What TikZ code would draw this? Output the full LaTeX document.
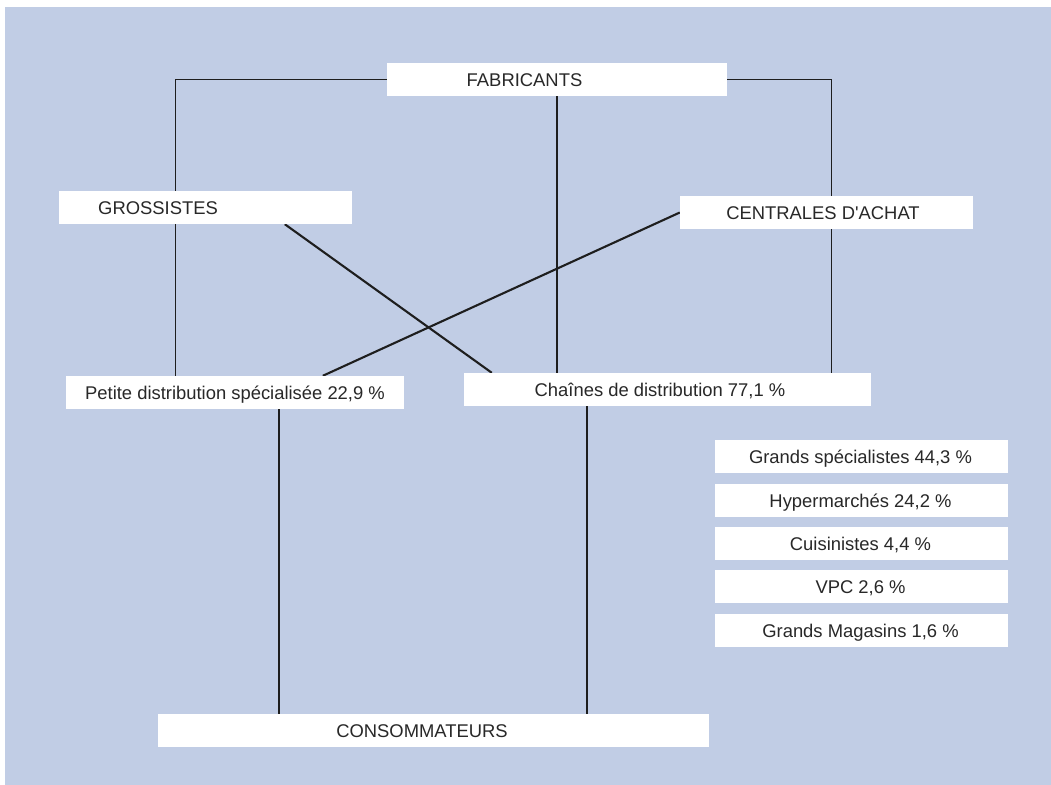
\documentclass[tikz,border=0pt]{standalone}
\usepackage{fontspec}
\setmainfont{Liberation Sans}
\usetikzlibrary{calc}
\pgfdeclarelayer{back}
\pgfdeclarelayer{lines}
\pgfsetlayers{back,lines,main}
\definecolor{bgblue}{RGB}{193,205,229}
\definecolor{txtgray}{RGB}{40,40,40}
\definecolor{linegray}{RGB}{30,30,30}
\tikzset{
  box/.style={fill=white, draw=none, inner sep=0pt, minimum height=33pt},
  txt/.style={text=txtgray, inner sep=0pt, text height=13.1pt, text depth=0pt, font=\fontsize{18.4pt}{21pt}\selectfont},
  thinline/.style={draw=linegray, line width=1.1pt},
  thickline/.style={draw=linegray, line width=2.1pt},
}
\begin{document}
\begin{tikzpicture}[x=1pt,y=-1pt]
\useasboundingbox (0,0) rectangle (1051,784);
\begin{pgfonlayer}{back}
\fill[white] (-5,-5) rectangle (1060,790);
\fill[bgblue] (5,7) rectangle (1060,790);
\end{pgfonlayer}
% boxes
\node[box, minimum width=340pt] (fab) at (557,79.5) {};
\node[box, minimum width=293pt] (gro) at (205.5,207.5) {};
\node[box, minimum width=293pt] (cen) at (826.5,212.5) {};
\node[box, minimum width=338pt] (pet) at (235,392.5) {};
\node[box, minimum width=407pt] (cha) at (667.5,389.5) {};
\node[box, minimum width=293pt] (r1) at (861.5,456.5) {};
\node[box, minimum width=293pt] (r2) at (861.5,500.5) {};
\node[box, minimum width=293pt] (r3) at (861.5,543.5) {};
\node[box, minimum width=293pt] (r4) at (861.5,586.5) {};
\node[box, minimum width=293pt] (r5) at (861.5,630.5) {};
\node[box, minimum width=551pt] (con) at (433.5,730.5) {};
% texts
\node[txt] (fabt) at (524.5,79.5) {FABRICANTS};
\node[txt, anchor=west] (grot) at (98,207.5) {GROSSISTES};
\node[txt] (cent) at (823,212.5) {CENTRALES D\textquotesingle ACHAT};
\node[txt] (pett) at (235,392.5) {Petite distribution spécialisée 22,9 \%};
\node[txt] (chat) at (660,389.5) {Chaînes de distribution 77,1 \%};
\node[txt] (r1t) at (860.5,456.5) {Grands spécialistes 44,3 \%};
\node[txt] (r2t) at (860.5,500.5) {Hypermarchés 24,2 \%};
\node[txt] (r3t) at (860.5,543.5) {Cuisinistes 4,4 \%};
\node[txt] (r4t) at (860.5,586.5) {VPC 2,6 \%};
\node[txt] (r5t) at (860.5,630.5) {Grands Magasins 1,6 \%};
\node[txt] (cont) at (422,730.5) {CONSOMMATEURS};
% connectors
\begin{pgfonlayer}{lines}
\draw[thinline] (fab.west) -| ($(pet.north west)+(110,0)$);
\draw[thinline] (fab.east) -| ($(cha.north west)+(368,0)$);
\draw[thickline] (fab.south) -- (fab.south |- cha.north);
\draw[thickline] ($(gro.south west)+(226,0)$) -- ($(cha.north west)+(28,0)$);
\draw[thickline] (cen.west) -- ($(pet.north west)+(257,0)$);
\coordinate (pb) at ($(pet.south west)+(213,0)$);
\coordinate (cb) at ($(cha.south west)+(123,0)$);
\draw[thickline] (pb) -- (pb |- con.north);
\draw[thickline] (cb) -- (cb |- con.north);
\end{pgfonlayer}
\end{tikzpicture}
\end{document}
